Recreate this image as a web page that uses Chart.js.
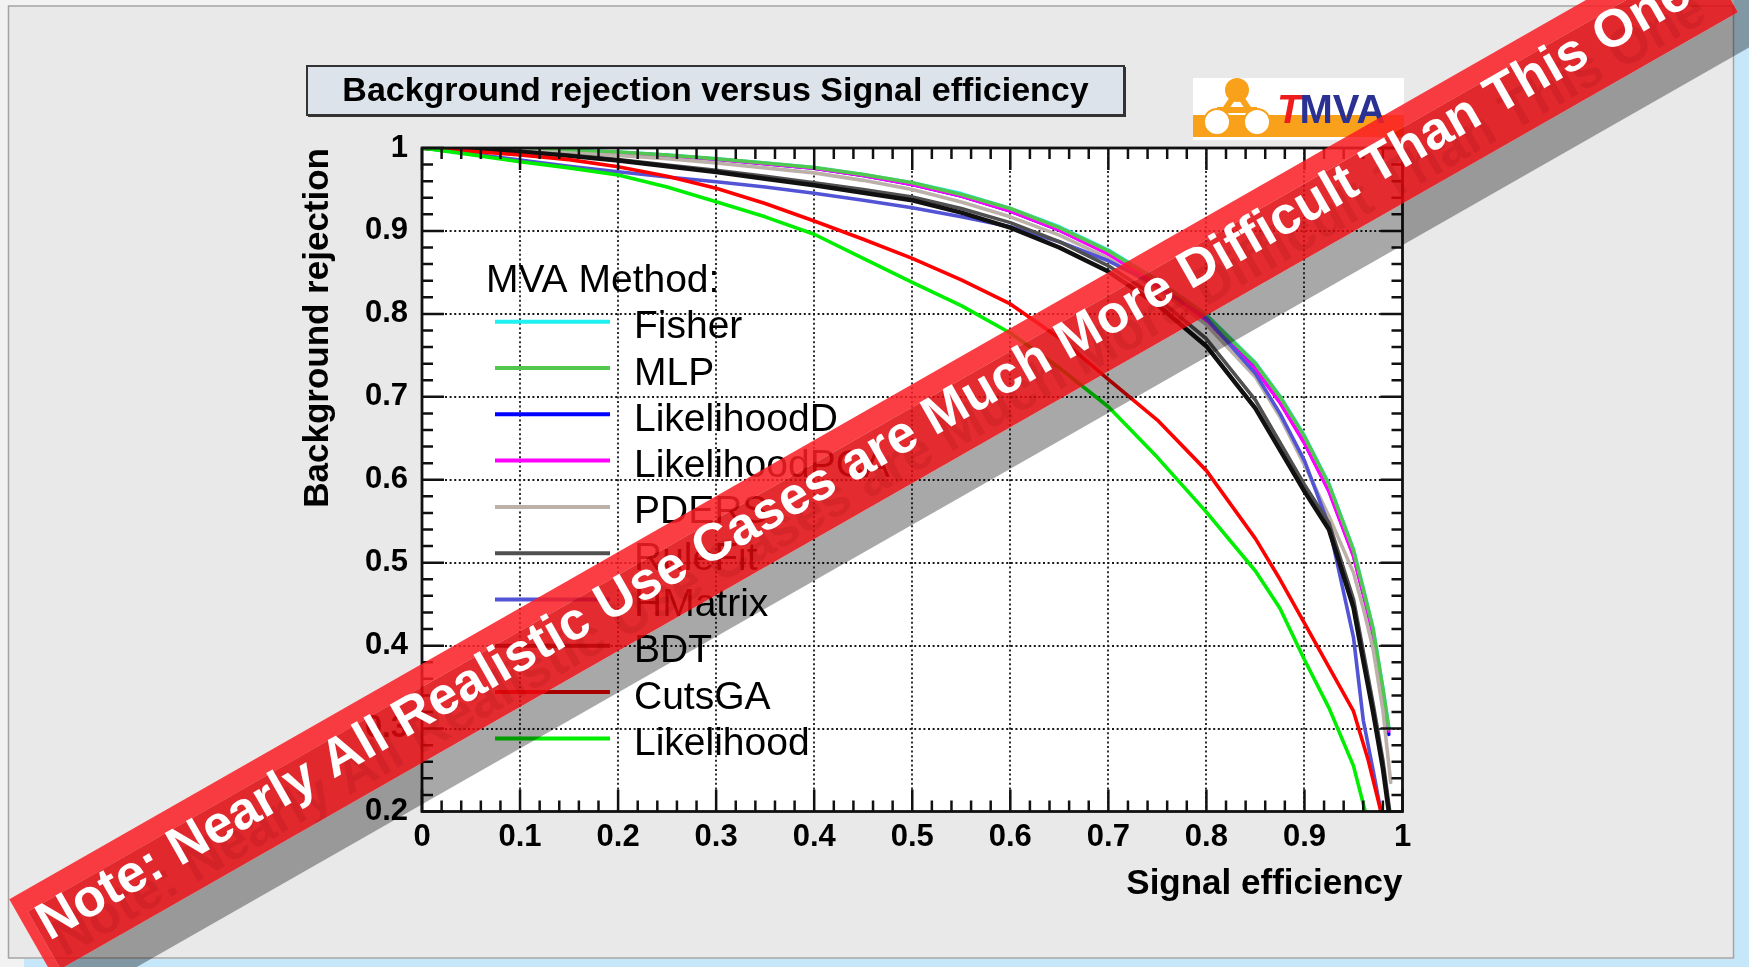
<!DOCTYPE html>
<html>
<head>
<meta charset="utf-8">
<title>Background rejection versus Signal efficiency</title>
<script src="https://cdn.jsdelivr.net/npm/chart.js@4.4.1/dist/chart.umd.min.js"></script>
<style>
  html, body { margin: 0; padding: 0; background: #f2f2f2; overflow: hidden; }
  canvas { display: block; }
</style>
</head>
<body>
<canvas id="roc" width="1749" height="967"></canvas>
<script>
// ---- ROC curves: background rejection vs signal efficiency ----
const signalEff = [0, 0.05, 0.1, 0.15, 0.2, 0.25, 0.3, 0.35, 0.4, 0.45, 0.5, 0.55, 0.6, 0.65, 0.7, 0.75, 0.8, 0.85, 0.875, 0.9, 0.925, 0.95];

const fisherRej = [1.000, 0.9995, 0.9985, 0.997, 0.995, 0.9915, 0.987, 0.982, 0.9765, 0.968, 0.958, 0.945, 0.927, 0.905, 0.877, 0.841, 0.799, 0.741, 0.701, 0.653, 0.595, 0.516];
const fisherTailEff = [0.96, 0.97, 0.98, 0.986];
const fisherTailRej = [0.469, 0.421, 0.349, 0.302];

const mlpRej = [1.000, 0.9995, 0.9985, 0.997, 0.995, 0.9915, 0.987, 0.982, 0.9765, 0.968, 0.958, 0.944, 0.927, 0.904, 0.876, 0.840, 0.798, 0.740, 0.700, 0.652, 0.594, 0.515];
const mlpTailEff = [0.96, 0.97, 0.98, 0.986];
const mlpTailRej = [0.468, 0.420, 0.348, 0.300];

const likelihoodDRej = [1.000, 0.9994, 0.9983, 0.9967, 0.9945, 0.991, 0.9865, 0.981, 0.9755, 0.967, 0.956, 0.942, 0.924, 0.901, 0.873, 0.836, 0.793, 0.734, 0.694, 0.645, 0.587, 0.509];
const likelihoodDTailEff = [0.96, 0.97, 0.98, 0.986];
const likelihoodDTailRej = [0.463, 0.415, 0.344, 0.293];

const likelihoodPCARej = [1.000, 0.9994, 0.9983, 0.9967, 0.9945, 0.991, 0.9865, 0.981, 0.9755, 0.967, 0.956, 0.942, 0.924, 0.901, 0.872, 0.835, 0.792, 0.733, 0.693, 0.644, 0.586, 0.508];
const likelihoodPCATailEff = [0.96, 0.97, 0.98, 0.986];
const likelihoodPCATailRej = [0.462, 0.414, 0.343, 0.297];

const pdersRej = [1.000, 0.999, 0.997, 0.994, 0.991, 0.987, 0.982, 0.976, 0.970, 0.961, 0.950, 0.935, 0.917, 0.895, 0.867, 0.830, 0.787, 0.724, 0.676, 0.618, 0.556, 0.488];
const pdersTailEff = [0.96, 0.97, 0.98, 0.988];
const pdersTailRej = [0.445, 0.396, 0.322, 0.235];

const ruleFitRej = [1.000, 0.9985, 0.996, 0.9915, 0.986, 0.9795, 0.973, 0.966, 0.958, 0.950, 0.941, 0.927, 0.910, 0.887, 0.858, 0.819, 0.770, 0.696, 0.645, 0.594, 0.548, 0.456];
const ruleFitTailEff = [0.96, 0.97, 0.98, 0.987];
const ruleFitTailRej = [0.393, 0.330, 0.262, 0.200];

const hMatrixRej = [1.000, 0.993, 0.9855, 0.978, 0.9714, 0.965, 0.9594, 0.953, 0.9454, 0.937, 0.928, 0.917, 0.905, 0.887, 0.864, 0.834, 0.795, 0.728, 0.680, 0.623, 0.545, 0.410];
const hMatrixTailEff = [0.96, 0.97, 0.978];
const hMatrixTailRej = [0.310, 0.250, 0.200];

const bdtRej = [1.000, 0.998, 0.9955, 0.9905, 0.985, 0.978, 0.971, 0.963, 0.955, 0.946, 0.937, 0.922, 0.904, 0.880, 0.851, 0.811, 0.761, 0.686, 0.636, 0.586, 0.540, 0.446];
const bdtTailEff = [0.96, 0.97, 0.98, 0.986];
const bdtTailRej = [0.382, 0.320, 0.252, 0.200];

const cutsGARej = [1.000, 0.996, 0.9915, 0.986, 0.9775, 0.966, 0.9515, 0.933, 0.912, 0.890, 0.867, 0.841, 0.812, 0.771, 0.721, 0.672, 0.611, 0.529, 0.480, 0.427, 0.374, 0.321];
const cutsGATailEff = [0.965, 0.978];
const cutsGATailRej = [0.262, 0.200];

const likelihoodRej = [1.000, 0.992, 0.9835, 0.976, 0.9674, 0.953, 0.9353, 0.917, 0.896, 0.867, 0.838, 0.810, 0.777, 0.735, 0.688, 0.627, 0.561, 0.490, 0.445, 0.383, 0.325, 0.255];
const likelihoodTailEff = [0.962];
const likelihoodTailRej = [0.200];

const methodNames = ['Fisher', 'MLP', 'LikelihoodD', 'LikelihoodPCA', 'PDERS', 'RuleFit', 'HMatrix', 'BDT', 'CutsGA', 'Likelihood'];
const methodColors = ['#1ff0f0', '#50c850', '#0000ff', '#ff00ff', '#bcb1a8', '#505050', '#5353d6', '#111111', '#ff0000', '#00ee00'];
const drawOrder = [8, 6, 9, 7, 5, 3, 4, 2, 1, 0];

const xTickLabels = ['0', '0.1', '0.2', '0.3', '0.4', '0.5', '0.6', '0.7', '0.8', '0.9', '1'];
const yTickLabels = ['0.2', '0.3', '0.4', '0.5', '0.6', '0.7', '0.8', '0.9', '1'];

const plotTitle = 'Background rejection versus Signal efficiency';
const xTitle = 'Signal efficiency';
const yTitle = 'Background rejection';
const legendHeader = 'MVA Method:';
const bannerText = 'Note: Nearly All Realistic Use Cases are Much More Difficult Than This One';

const FONT = '"Liberation Sans", Arial, Helvetica, sans-serif';

function curve(rej, tailEff, tailRej) {
  const pts = signalEff.map((x, i) => ({ x: x, y: rej[i] }));
  tailEff.forEach((x, i) => pts.push({ x: x, y: tailRej[i] }));
  return pts;
}

const curveData = [
  curve(fisherRej, fisherTailEff, fisherTailRej),
  curve(mlpRej, mlpTailEff, mlpTailRej),
  curve(likelihoodDRej, likelihoodDTailEff, likelihoodDTailRej),
  curve(likelihoodPCARej, likelihoodPCATailEff, likelihoodPCATailRej),
  curve(pdersRej, pdersTailEff, pdersTailRej),
  curve(ruleFitRej, ruleFitTailEff, ruleFitTailRej),
  curve(hMatrixRej, hMatrixTailEff, hMatrixTailRej),
  curve(bdtRej, bdtTailEff, bdtTailRej),
  curve(cutsGARej, cutsGATailEff, cutsGATailRej),
  curve(likelihoodRej, likelihoodTailEff, likelihoodTailRej)
];

const datasets = methodNames.map((name, i) => ({
  label: name,
  data: curveData[i],
  borderColor: methodColors[i],
  backgroundColor: methodColors[i],
  borderWidth: name === 'BDT' ? 4.5 : 3.6,
  borderJoinStyle: 'round',
  borderCapStyle: 'round',
  pointRadius: 0,
  tension: 0,
  fill: false,
  order: drawOrder[i]
}));

// minor tick values: five subdivisions between major ticks
function minorValues(scale) {
  const major = scale.ticks.map(t => t.value);
  const out = [];
  for (let i = 0; i < major.length - 1; i++) {
    for (let k = 1; k < 5; k++) out.push(major[i] + (major[i + 1] - major[i]) * k / 5);
  }
  return out;
}

function drawPage(ctx, W, H) {
  ctx.save();
  ctx.fillStyle = '#f2f2f2';
  ctx.fillRect(0, 0, W, H);
  ctx.fillStyle = '#c6e6f9';
  ctx.fillRect(1734, 0, W - 1734, H);
  ctx.fillRect(24, 959, W - 24, H - 959);
  ctx.fillStyle = '#e9e9e9';
  ctx.fillRect(8.5, 6, 1725, 952);
  ctx.strokeStyle = '#a4a4a4';
  ctx.lineWidth = 1.5;
  ctx.strokeRect(8.5, 6, 1725, 952);
  ctx.restore();
}

function drawTitleBox(ctx) {
  ctx.save();
  ctx.fillStyle = '#dde3ea';
  ctx.fillRect(307, 66, 817, 49);
  ctx.strokeStyle = '#333';
  ctx.lineWidth = 2;
  ctx.strokeRect(307, 66, 817, 49);
  ctx.beginPath();
  ctx.moveTo(1125, 67); ctx.lineTo(1125, 116); ctx.lineTo(308, 116);
  ctx.stroke();
  ctx.fillStyle = '#000';
  ctx.font = 'bold 34px ' + FONT;
  ctx.textAlign = 'center';
  ctx.textBaseline = 'alphabetic';
  ctx.fillText(plotTitle, 715.5, 101);
  ctx.restore();
}

function drawLogo(ctx) {
  const orange = '#f9a11b';
  ctx.save();
  ctx.fillStyle = '#ffffff';
  ctx.fillRect(1193, 78, 211, 62);
  ctx.fillStyle = orange;
  ctx.fillRect(1193, 115, 211, 22);
  ctx.strokeStyle = orange;
  ctx.lineWidth = 6;
  ctx.beginPath();
  ctx.moveTo(1237, 92); ctx.lineTo(1217, 121);
  ctx.moveTo(1237, 92); ctx.lineTo(1257, 121);
  ctx.moveTo(1217, 110); ctx.lineTo(1257, 110);
  ctx.stroke();
  ctx.fillStyle = orange;
  ctx.beginPath();
  ctx.arc(1237, 90, 12, 0, Math.PI * 2);
  ctx.fill();
  ctx.fillStyle = '#ffffff';
  ctx.lineWidth = 2;
  [1217, 1257].forEach(cx => {
    ctx.beginPath();
    ctx.arc(cx, 122, 13, 0, Math.PI * 2);
    ctx.fill();
    ctx.stroke();
  });
  ctx.textBaseline = 'alphabetic';
  ctx.textAlign = 'left';
  ctx.font = 'italic bold 40px ' + FONT;
  ctx.fillStyle = '#ee1c1c';
  ctx.fillText('T', 1277, 123);
  const tw = ctx.measureText('T').width;
  ctx.font = 'bold 40px ' + FONT;
  ctx.fillStyle = '#2b3193';
  ctx.fillText('MVA', 1277 + tw - 2, 123);
  ctx.restore();
}

function drawLegend(ctx, chart) {
  ctx.save();
  ctx.font = '39px ' + FONT;
  ctx.fillStyle = '#000';
  ctx.textAlign = 'left';
  ctx.textBaseline = 'alphabetic';
  ctx.fillText(legendHeader, 486, 292);
  chart.data.datasets.forEach((ds, i) => {
    const y = 321.7 + i * 46.3;
    ctx.strokeStyle = ds.borderColor;
    ctx.lineWidth = 4;
    ctx.lineCap = 'butt';
    ctx.beginPath();
    ctx.moveTo(495, y);
    ctx.lineTo(610, y);
    ctx.stroke();
    ctx.fillStyle = '#000';
    ctx.fillText(ds.label, 634, y + 16.5);
  });
  ctx.restore();
}

function drawBanner(ctx) {
  const L = 1941, T = 86;
  ctx.save();
  ctx.translate(9.3, 899.3);
  ctx.rotate(-29.7 * Math.PI / 180);
  // drop shadow below and past the end of the ribbon
  ctx.fillStyle = 'rgba(0,0,0,0.34)';
  ctx.beginPath();
  ctx.rect(-3, T, L + 3, 36);
  ctx.rect(L, 30, 18, T + 6);
  ctx.fill();
  // ribbon body: light rim and darker core
  ctx.fillStyle = 'rgba(250,30,36,0.86)';
  ctx.beginPath();
  ctx.rect(0, 0, L, 20);
  ctx.rect(0, 20, 10, T - 20);
  ctx.fill();
  ctx.fillStyle = 'rgba(224,8,14,0.86)';
  ctx.fillRect(10, 20, L - 10, T - 20);
  // lettering with a faint echo below
  ctx.font = 'bold 53px ' + FONT;
  ctx.textAlign = 'left';
  ctx.textBaseline = 'alphabetic';
  ctx.save();
  ctx.beginPath();
  ctx.rect(0, 0, L, T);
  ctx.clip();
  ctx.fillStyle = 'rgba(110,0,0,0.11)';
  ctx.fillText(bannerText, 14 + 5, 56 + 22);
  ctx.restore();
  ctx.fillStyle = '#ffffff';
  ctx.fillText(bannerText, 14, 56);
  ctx.restore();
}

const rootStyle = {
  id: 'rootStyle',
  beforeDraw(chart) {
    drawPage(chart.ctx, chart.width, chart.height);
  },
  beforeDatasetsDraw(chart) {
    const { ctx, chartArea: a, scales: { x, y } } = chart;
    ctx.save();
    ctx.fillStyle = '#ffffff';
    ctx.fillRect(a.left, a.top, a.right - a.left, a.bottom - a.top);
    ctx.strokeStyle = '#1a1a1a';
    ctx.lineWidth = 1.8;
    ctx.setLineDash([2, 2.6]);
    ctx.beginPath();
    x.ticks.forEach(t => {
      const px = Math.round(x.getPixelForValue(t.value));
      if (px <= a.left + 1 || px >= a.right - 1) return;
      ctx.moveTo(px, a.top); ctx.lineTo(px, a.bottom);
    });
    y.ticks.forEach(t => {
      const py = Math.round(y.getPixelForValue(t.value));
      if (py <= a.top + 1 || py >= a.bottom - 1) return;
      ctx.moveTo(a.left, py); ctx.lineTo(a.right, py);
    });
    ctx.stroke();
    ctx.restore();
  },
  afterDatasetsDraw(chart) {
    const { ctx, chartArea: a, scales: { x, y } } = chart;
    ctx.save();
    ctx.strokeStyle = '#111';
    ctx.lineWidth = 2.5;
    ctx.beginPath();
    const major = 22, minor = 11;
    x.ticks.forEach(t => {
      const px = x.getPixelForValue(t.value);
      ctx.moveTo(px, a.bottom); ctx.lineTo(px, a.bottom - major);
      ctx.moveTo(px, a.top); ctx.lineTo(px, a.top + major);
    });
    minorValues(x).forEach(v => {
      const px = x.getPixelForValue(v);
      ctx.moveTo(px, a.bottom); ctx.lineTo(px, a.bottom - minor);
      ctx.moveTo(px, a.top); ctx.lineTo(px, a.top + minor);
    });
    y.ticks.forEach(t => {
      const py = y.getPixelForValue(t.value);
      ctx.moveTo(a.left, py); ctx.lineTo(a.left + major, py);
      ctx.moveTo(a.right, py); ctx.lineTo(a.right - major, py);
    });
    minorValues(y).forEach(v => {
      const py = y.getPixelForValue(v);
      ctx.moveTo(a.left, py); ctx.lineTo(a.left + minor, py);
      ctx.moveTo(a.right, py); ctx.lineTo(a.right - minor, py);
    });
    ctx.stroke();
    ctx.lineWidth = 2.8;
    ctx.strokeRect(a.left, a.top, a.right - a.left, a.bottom - a.top);
    ctx.restore();
    drawLegend(ctx, chart);
  },
  afterDraw(chart) {
    const ctx = chart.ctx;
    drawTitleBox(ctx);
    drawLogo(ctx);
    drawBanner(ctx);
  }
};

Chart.defaults.font.family = FONT;
Chart.defaults.color = '#000';

new Chart(document.getElementById('roc'), {
  type: 'line',
  data: { datasets: datasets },
  options: {
    responsive: false,
    animation: false,
    devicePixelRatio: 1,
    layout: { padding: { left: 297, top: 148, right: 346.5, bottom: 55.5 } },
    plugins: {
      legend: { display: false },
      tooltip: { enabled: false },
      title: { display: false }
    },
    scales: {
      x: {
        type: 'linear',
        position: 'bottom',
        min: 0,
        max: 1,
        afterFit: s => { s.height = 100; },
        grid: { display: false, drawTicks: false },
        border: { display: false },
        ticks: {
          stepSize: 0.1,
          autoSkip: false,
          maxRotation: 0,
          padding: 7,
          color: '#000',
          font: { size: 31, weight: 'bold' },
          callback: v => xTickLabels[Math.round(v * 10)]
        },
        title: {
          display: true,
          text: xTitle,
          align: 'end',
          color: '#000',
          font: { size: 35, weight: 'bold' },
          padding: { top: 0, bottom: 6 }
        }
      },
      y: {
        type: 'linear',
        min: 0.2,
        max: 1,
        afterFit: s => { s.width = 125; },
        grid: { display: false, drawTicks: false },
        border: { display: false },
        ticks: {
          stepSize: 0.1,
          autoSkip: false,
          padding: 14,
          color: '#000',
          font: { size: 31, weight: 'bold' },
          callback: v => yTickLabels[Math.round(v * 10) - 2]
        },
        title: {
          display: true,
          text: yTitle,
          align: 'end',
          color: '#000',
          font: { size: 35, weight: 'bold' },
          padding: { top: 0, bottom: 0 }
        }
      }
    }
  },
  plugins: [rootStyle]
});
</script>
</body>
</html>
